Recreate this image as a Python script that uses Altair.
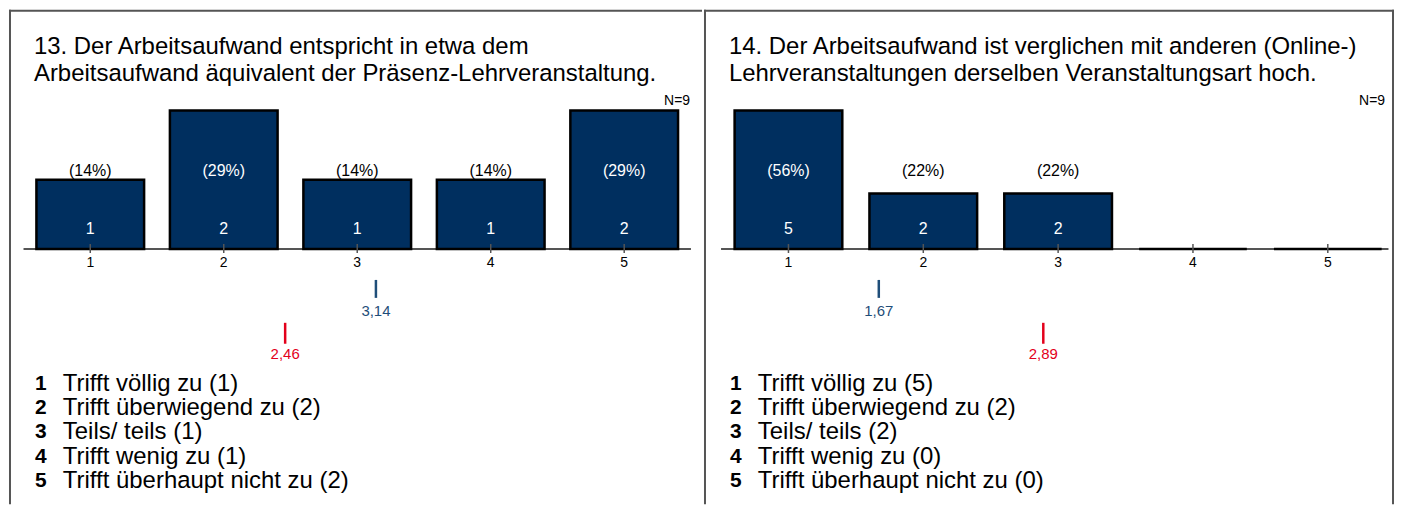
import altair as alt
import pandas as pd

# ---------------- data ----------------
categories = [1, 2, 3, 4, 5]
answer_labels = [
    "Trifft völlig zu",
    "Trifft überwiegend zu",
    "Teils/ teils",
    "Trifft wenig zu",
    "Trifft überhaupt nicht zu",
]

q13_title = [
    "13. Der Arbeitsaufwand entspricht in etwa dem",
    "Arbeitsaufwand äquivalent der Präsenz-Lehrveranstaltung.",
]
q13_counts = [1, 2, 1, 1, 2]
q13_pct = ["(14%)", "(29%)", "(14%)", "(14%)", "(29%)"]
q13_n = 9
q13_mean_blue = 3.14
q13_mean_red = 2.46

q14_title = [
    "14. Der Arbeitsaufwand ist verglichen mit anderen (Online-)",
    "Lehrveranstaltungen derselben Veranstaltungsart hoch.",
]
q14_counts = [5, 2, 2, 0, 0]
q14_pct = ["(56%)", "(22%)", "(22%)", "", ""]
q14_n = 9
q14_mean_blue = 1.67
q14_mean_red = 2.89

# ---------------- style ----------------
H = 496
FONT = "Liberation Sans"
BAR = "#002F5F"
BLUE = "#1F4E79"
RED = "#E3001B"
LINE = "#555555"


def panel(title, counts, pct, n, m_blue, m_red, W, xdom, base_end, right_border=False):
    df = pd.DataFrame({"cat": categories, "count": counts, "pct": pct, "label": answer_labels})
    ymax = max(counts)
    xs = alt.Scale(domain=xdom, nice=False, zero=False, padding=0)
    ys = alt.Scale(domain=[0, ymax], range=[240, 101], nice=False, zero=True, padding=0)
    X = alt.X("cat:Q", scale=xs, axis=None)
    base = alt.Chart(df)
    one = alt.Chart(pd.DataFrame({"d": [0]}))

    layers = []
    # borders
    layers.append(one.mark_rule(color=LINE, strokeWidth=2).encode(
        x=alt.value(0), x2=alt.value(W), y=alt.value(1)))
    layers.append(one.mark_rule(color=LINE, strokeWidth=2).encode(
        x=alt.value(1), y=alt.value(0), y2=alt.value(H)))
    if right_border:
        layers.append(one.mark_rule(color=LINE, strokeWidth=2).encode(
            x=alt.value(W - 1), y=alt.value(0), y2=alt.value(H)))

    # title
    layers.append(one.mark_text(align="left", baseline="middle", fontSize=24,
                                lineHeight=27, font=FONT, color="black").encode(
        x=alt.value(25), y=alt.value(37), text=alt.value(title)))
    # N
    layers.append(one.mark_text(align="right", baseline="middle", fontSize=14,
                                font=FONT, color="black").encode(
        x=alt.value(683), y=alt.value(92), text=alt.value(f"N={n}")))

    # baseline
    base_df = pd.DataFrame({"a": [0.5], "b": [base_end], "z": [0]})
    layers.append(alt.Chart(base_df).mark_rule(color=LINE, strokeWidth=2).encode(
        x=alt.X("a:Q", scale=xs, axis=None), x2="b:Q",
        y=alt.Y("z:Q", scale=ys, axis=None)))

    # bars
    layers.append(base.mark_bar(width=108, fill=BAR, stroke="black", strokeWidth=2.5).encode(
        x=X, y=alt.Y("count:Q", scale=ys, axis=None)))

    # ticks
    layers.append(base.mark_rule(color=LINE, strokeWidth=1.5).encode(
        x=X, y=alt.value(235), y2=alt.value(244)))
    # tick labels
    layers.append(base.mark_text(baseline="middle", fontSize=14, font=FONT, color="black").encode(
        x=X, y=alt.value(254), text=alt.Text("cat:Q")))

    # percent labels
    layers.append(base.transform_calculate(
        pc=f"datum.count / {ymax} >= 0.6 ? 'white' : 'black'").mark_text(
        baseline="middle", fontSize=16, font=FONT).encode(
        x=X, y=alt.value(162), text="pct:N", color=alt.Color("pc:N", scale=None)))

    # count labels
    layers.append(base.transform_filter("datum.count > 0").mark_text(
        baseline="middle", fontSize=16, font=FONT, color="white").encode(
        x=X, y=alt.value(220), text=alt.Text("count:Q")))

    # mean markers
    mb = alt.Chart(pd.DataFrame({"v": [m_blue]})).transform_calculate(
        lbl="replace(format(datum.v, '.2f'), '.', ',')")
    mr = alt.Chart(pd.DataFrame({"v": [m_red]})).transform_calculate(
        lbl="replace(format(datum.v, '.2f'), '.', ',')")
    VX = alt.X("v:Q", scale=xs, axis=None)
    layers.append(mb.mark_rule(color=BLUE, strokeWidth=2.5).encode(
        x=VX, y=alt.value(271), y2=alt.value(289)))
    layers.append(mb.mark_text(baseline="middle", fontSize=15, font=FONT, color=BLUE).encode(
        x=VX, y=alt.value(302), text="lbl:N"))
    layers.append(mr.mark_rule(color=RED, strokeWidth=2.5).encode(
        x=VX, y=alt.value(314), y2=alt.value(335)))
    layers.append(mr.mark_text(baseline="middle", fontSize=15, font=FONT, color=RED).encode(
        x=VX, y=alt.value(345), text="lbl:N"))

    # legend
    LY = alt.Y("cat:O", scale=alt.Scale(type="point", range=[375, 473], padding=0), axis=None)
    leg = base.transform_calculate(lt="datum.label + ' (' + datum.count + ')'")
    layers.append(leg.mark_text(align="center", baseline="middle", fontSize=21,
                                fontWeight="bold", font=FONT, color="black").encode(
        x=alt.value(32), y=LY, text=alt.Text("cat:N")))
    layers.append(leg.mark_text(align="left", baseline="middle", fontSize=24,
                                font=FONT, color="black").encode(
        x=alt.value(54), y=LY, text="lt:N"))

    return alt.layer(*layers).resolve_scale(y="independent").properties(width=W, height=H)


p1 = panel(q13_title, q13_counts, q13_pct, q13_n, q13_mean_blue, q13_mean_red,
           695, [0.3912, 5.5828], 5.5)
p2 = panel(q14_title, q14_counts, q14_pct, q14_n, q14_mean_blue, q14_mean_red,
           692, [0.3736, 5.491], 5.45, right_border=True)

chart = alt.hconcat(p1, p2, spacing=0).properties(padding=0, background="white").configure_view(stroke=None)

chart.save("out.html", embed_options={"renderer": "svg", "actions": False})
